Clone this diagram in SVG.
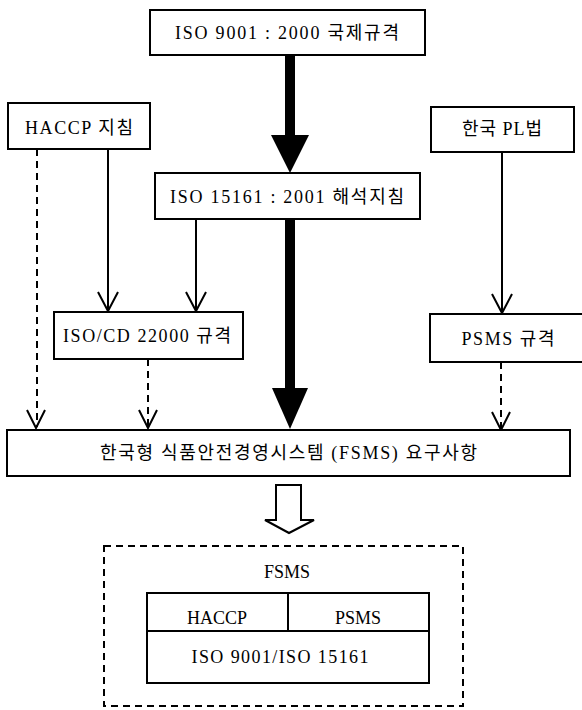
<svg xmlns="http://www.w3.org/2000/svg" width="582" height="710" viewBox="0 0 582 710">
<style>
.box{fill:#fff;stroke:#000;stroke-width:2}
.t{font-family:"Liberation Serif","Noto Sans CJK KR",serif;font-size:18px;fill:#000;text-anchor:middle}
.ln{fill:none;stroke:#000;stroke-width:2}
.dash{fill:none;stroke:#000;stroke-width:2;stroke-dasharray:7 5}
.v{fill:none;stroke:#000;stroke-width:2;stroke-linejoin:miter}
.thick{fill:#000;stroke:none}
</style>
<rect width="582" height="710" fill="#fff"/>
<g id="connectors">
  <!-- thick arrow ISO 9001 to ISO 15161 -->
  <rect class="thick" x="285" y="55" width="10" height="82"/>
  <polygon class="thick" points="271,135 309,135 290,173"/>
  <!-- thick arrow ISO 15161 to FSMS requirements -->
  <rect class="thick" x="285" y="219" width="10" height="171"/>
  <polygon class="thick" points="272,388 308,388 290,429"/>
  <!-- HACCP solid -->
  <line class="ln" x1="108" y1="149" x2="108" y2="311"/>
  <polyline class="v" points="98,292 108,311 118,292"/>
  <!-- ISO 15161 solid -->
  <line class="ln" x1="196" y1="219" x2="196" y2="311"/>
  <polyline class="v" points="186,292 196,311 206,292"/>
  <!-- PL solid -->
  <line class="ln" x1="502" y1="152" x2="502" y2="313"/>
  <polyline class="v" points="492,294 502,313 512,294"/>
  <!-- HACCP dashed -->
  <line class="dash" x1="37" y1="149" x2="37" y2="427"/>
  <polyline class="v" points="27,410 36,428 45,410"/>
  <!-- ISO/CD dashed -->
  <line class="dash" x1="148" y1="359" x2="148" y2="427"/>
  <polyline class="v" points="139,410 148,428 157,410"/>
  <!-- PSMS dashed -->
  <line class="dash" x1="501" y1="362" x2="501" y2="429"/>
  <polyline class="v" points="492,412 501,430 510,412"/>
  <!-- hollow arrow -->
  <polygon class="v" points="276,485 301,485 301,520 314,520 289,533 265,520 276,520"/>
</g>
<g id="iso9001">
  <rect class="box" x="150" y="10" width="275" height="45"/>
  <text class="t" x="287" y="39" textLength="224" lengthAdjust="spacing">ISO 9001 : 2000 국제규격</text>
</g>
<g id="haccp">
  <rect class="box" x="8" y="103" width="142" height="46"/>
  <text class="t" x="79" y="134" textLength="108" lengthAdjust="spacing">HACCP 지침</text>
</g>
<g id="pl">
  <rect class="box" x="431" y="107" width="143" height="45"/>
  <text class="t" x="502" y="135" textLength="80" lengthAdjust="spacing">한국 PL법</text>
</g>
<g id="iso15161">
  <rect class="box" x="155" y="173" width="265" height="46"/>
  <text class="t" x="287" y="203" textLength="234" lengthAdjust="spacing">ISO 15161 : 2001 해석지침</text>
</g>
<g id="isocd">
  <rect class="box" x="54" y="312" width="189" height="47"/>
  <text class="t" x="147" y="342" textLength="168" lengthAdjust="spacing">ISO/CD 22000 규격</text>
</g>
<g id="psms">
  <rect class="box" x="430" y="314" width="158" height="48"/>
  <text class="t" x="508" y="345" textLength="93" lengthAdjust="spacing">PSMS 규격</text>
</g>
<g id="requirements">
  <rect class="box" x="7" y="430" width="563" height="46"/>
  <text class="t" x="288.5" y="459" textLength="377" lengthAdjust="spacing">한국형 식품안전경영시스템 (FSMS) 요구사항</text>
</g>
<g id="fsms">
  <rect class="dash" x="104" y="546" width="359" height="160"/>
  <text class="t" x="287" y="578">FSMS</text>
  <rect class="box" x="147" y="593" width="282" height="90"/>
  <line class="ln" x1="147" y1="631" x2="429" y2="631"/>
  <line class="ln" x1="288" y1="593" x2="288" y2="631"/>
  <text class="t" x="217" y="624">HACCP</text>
  <text class="t" x="358" y="624">PSMS</text>
  <text class="t" x="280" y="663" textLength="177" lengthAdjust="spacing">ISO 9001/ISO 15161</text>
</g>
</svg>
